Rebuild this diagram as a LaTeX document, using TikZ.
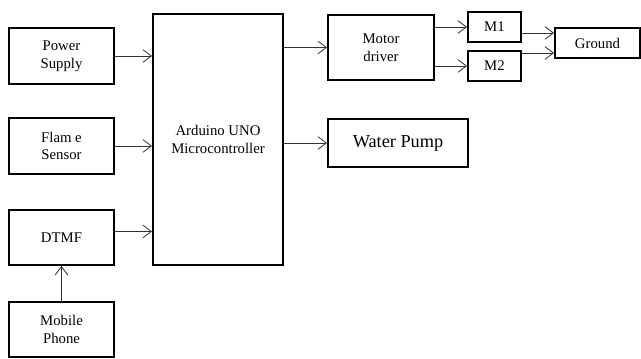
\documentclass[tikz,border=0pt]{standalone}
\usepackage{fontspec}
\setmainfont{Liberation Serif}
\usetikzlibrary{arrows.meta,calc}

\begin{document}
\begin{tikzpicture}[x=0.025cm,y=-0.025cm,
  blk/.style={draw,line width=1.3pt,align=center,inner sep=0pt,
    font=\fontsize{10.5}{12.5}\selectfont},
  arr/.style={line width=0.6pt,black!80,-{Straight Barb[length=6pt,width=9pt]}}]
\useasboundingbox (0,0) rectangle (641,359);
% inputs
\node[blk,minimum width=2.625cm,minimum height=1.4cm] (ps) at (61.5,56){Power\\Supply};
\node[blk,minimum width=2.625cm,minimum height=1.4cm] (fs) at (61.5,146){Flam e\\Sensor};
\node[blk,minimum width=2.625cm,minimum height=1.375cm] (dtmf) at (61.5,237.5){DTMF};
\node[blk,minimum width=2.625cm,minimum height=1.375cm] (mob) at (61.5,329.5){Mobile\\Phone};
% controller
\node[blk,minimum width=3.25cm,minimum height=6.275cm] (ard) at (218,139.5){Arduino UNO\\Microcontroller};
% outputs
\node[blk,minimum width=2.65cm,minimum height=1.625cm] (mot) at (381,47.5){Motor\\driver};
\node[blk,minimum width=1.325cm,minimum height=0.75cm] (m1) at (494.5,27){M1};
\node[blk,minimum width=1.325cm,minimum height=0.75cm] (m2) at (494.5,66){M2};
\node[blk,minimum width=2.125cm,minimum height=0.75cm] (gnd) at (597.5,43){Ground};
\node[blk,minimum width=3.5cm,minimum height=1.2cm,font=\fontsize{13}{15}\selectfont] (wp) at (398,143){Water Pump};
% connectors
\draw[arr] (ps.east) -- (ps.east -| ard.west);
\draw[arr] (fs.east) -- (fs.east -| ard.west);
\draw[arr] ($(dtmf.east)+(0,-6)$) coordinate (d1) -- (d1 -| ard.west);
\draw[arr] (mob.north) -- (dtmf.south);
\draw[arr] (mot.west -| ard.east) -- (mot.west);
\draw[arr] (wp.west -| ard.east) -- (wp.west);
\draw[arr] (m1.west -| mot.east) -- (m1.west);
\draw[arr] (m2.west -| mot.east) -- (m2.west);
\draw[arr] ($(m1.east)+(0,6)$) coordinate (g1) -- (g1 -| gnd.west);
\draw[arr] ($(m2.east)+(0,-13)$) coordinate (g2) -- (g2 -| gnd.west);
\end{tikzpicture}
\end{document}
